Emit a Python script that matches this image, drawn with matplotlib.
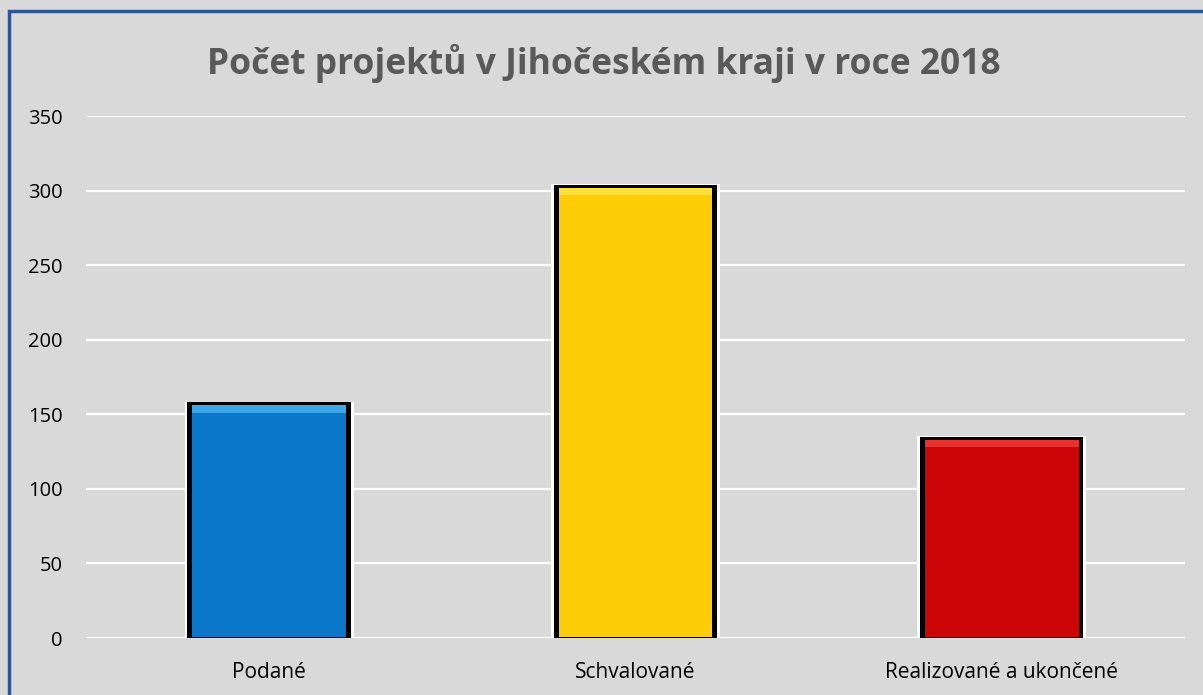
import matplotlib.pyplot as plt
from matplotlib.patches import Rectangle

categories = ["Podané", "Schvalované", "Realizované a ukončené"]
values = [158, 304, 135]
colors = ["#0a77c9", "#ffcc08", "#cc0606"]
highlights = ["#3fa6ea", "#ffe03a", "#e83232"]
yticks = [0, 50, 100, 150, 200, 250, 300, 350]

plt.rcParams["font.family"] = ["Open Sans", "DejaVu Sans"]

fig = plt.figure(figsize=(12.03, 6.95), dpi=100)
fig.patch.set_facecolor("#d9d9d9")
ax = fig.add_axes([0.0715, 0.082, 0.9135, 0.751])
ax.set_facecolor("#d9d9d9")

# outer chart border (top and left visible)
fig.patches.append(Rectangle((9 / 1203, -0.05), 1.2, (695 - 11) / 695 + 0.05,
                             transform=fig.transFigure, fill=False,
                             edgecolor="#2f5597", linewidth=2.5, zorder=10))

x = range(len(categories))
ax.bar(x, [v + 1.8 for v in values], width=0.462, bottom=-1.5, color="white", zorder=2)
ax.bar(x, values, width=0.446, color="black", zorder=3)
ax.bar(x, [v - 2.5 for v in values], width=0.42, bottom=0.5, color=colors, zorder=4)
ax.bar(x, [5] * 3, width=0.42, bottom=[v - 7 for v in values], color=highlights, zorder=5)

ax.set_xlim(-0.5, 2.5)
ax.set_ylim(0, 350)
ax.set_yticks(yticks)
ax.set_xticks(list(x))
ax.set_xticklabels(categories)
ax.grid(axis="y", color="white", linewidth=1.6, zorder=0)
ax.set_axisbelow(True)
for s in ax.spines.values():
    s.set_visible(False)
ax.tick_params(length=0, labelsize=14.5, colors="black")
ax.tick_params(axis="y", pad=17)
ax.tick_params(axis="x", pad=17)
for lab in ax.get_xticklabels():
    lab.set_fontsize(15)

fig.suptitle("Počet projektů v Jihočeském kraji v roce 2018", x=0.502, y=0.937,
             fontsize=25.5, fontweight="bold", color="#595959")

fig.savefig("out.png", facecolor=fig.get_facecolor())
